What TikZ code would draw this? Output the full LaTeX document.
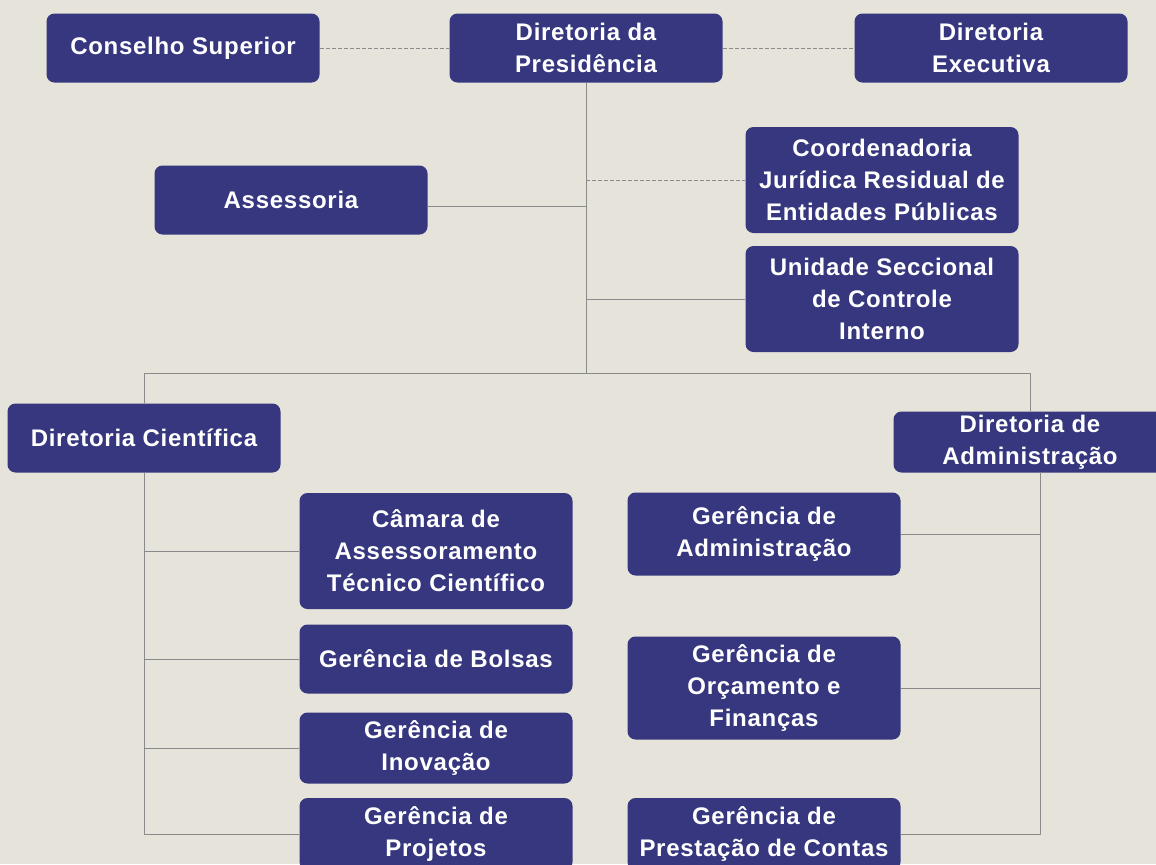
\documentclass[tikz,border=0pt]{standalone}
\usepackage{fontspec}
\setmainfont{Liberation Sans}[LetterSpace=3]
\definecolor{bgcream}{HTML}{E6E4DA}
\definecolor{boxblue}{HTML}{36377F}
\definecolor{linkgray}{HTML}{8A8A8A}
\tikzset{
  orgbox/.style={draw=none, fill=boxblue, text=white, rounded corners=4pt,
    inner sep=0pt, minimum width=136.5pt, align=center,
    font=\fontsize{12}{16}\selectfont\bfseries},
  link/.style={draw=linkgray, line width=0.5pt},
  duty/.style={link, dashed, dash pattern=on 2pt off 1pt}
}
\begin{document}
\begin{tikzpicture}[x=0.5pt,y=-0.5pt,line join=round]
  \fill[bgcream] (0,0) rectangle (1156,864);
  \useasboundingbox (0,0) rectangle (1156,864);
  \clip (0,0) rectangle (1156,864);
  % top level
  \node[orgbox, minimum height=34.5pt] (cons) at (183,48) {Conselho Superior};
  \node[orgbox, minimum height=34.5pt] (pres) at (586,48) {Diretoria da\\Presidência};
  \node[orgbox, minimum height=34.5pt] (exec) at (991,48) {Diretoria\\Executiva};
  \node[orgbox, minimum height=34.5pt] (asse) at (291,200) {Assessoria};
  \node[orgbox, minimum height=53pt] (coord) at (882,180) {Coordenadoria\\Jurídica Residual de\\Entidades Públicas};
  \node[orgbox, minimum height=53pt] (unid) at (882,299) {Unidade Seccional\\de Controle\\Interno};
  % diretorias
  \node[orgbox, minimum height=34.5pt] (dcie) at (144,438) {Diretoria Científica};
  \node[orgbox, minimum height=30.5pt] (dadm) at (1030,442) {Diretoria de\\Administração};
  % gerencias cientificas
  \node[orgbox, minimum height=58pt] (cam) at (436,551) {Câmara de\\Assessoramento\\Técnico Científico};
  \node[orgbox, minimum height=34.5pt] (bols) at (436,659) {Gerência de Bolsas};
  \node[orgbox, minimum height=35.5pt] (inov) at (436,748) {Gerência de\\Inovação};
  \node[orgbox, minimum height=36pt] (proj) at (436,834) {Gerência de\\Projetos};
  % gerencias administrativas
  \node[orgbox, minimum height=41.5pt] (gadm) at (764,534) {Gerência de\\Administração};
  \node[orgbox, minimum height=51.5pt] (gorc) at (764,688) {Gerência de\\Orçamento e\\Finanças};
  \node[orgbox, minimum height=36pt] (gpre) at (764,834) {Gerência de\\Prestação de Contas};
  \coordinate (t) at (586,373);
  \coordinate (b) at (1040,472);
  % links
  \draw[duty] (cons) -- (pres);
  \draw[duty] (pres) -- (exec);
  \draw[link] (pres) -- (t);
  \draw[duty] (coord.west -| t) -- (coord.west);
  \draw[link] ([yshift=-3pt]asse.east) -- ([yshift=-3pt]asse.east -| t);
  \draw[link] (unid.west -| t) -- (unid.west);
  \draw[link] (dcie.north) |- (t) -| (dadm.north);
  \draw[link] (dcie.south) |- (cam.west);
  \draw[link] (dcie.south) |- (bols.west);
  \draw[link] (dcie.south) |- (inov.west);
  \draw[link] (dcie.south) |- (proj.west);
  \draw[link] (b) |- (gadm.east);
  \draw[link] (b) |- (gorc.east);
  \draw[link] (b) |- (gpre.east);
\end{tikzpicture}
\end{document}
